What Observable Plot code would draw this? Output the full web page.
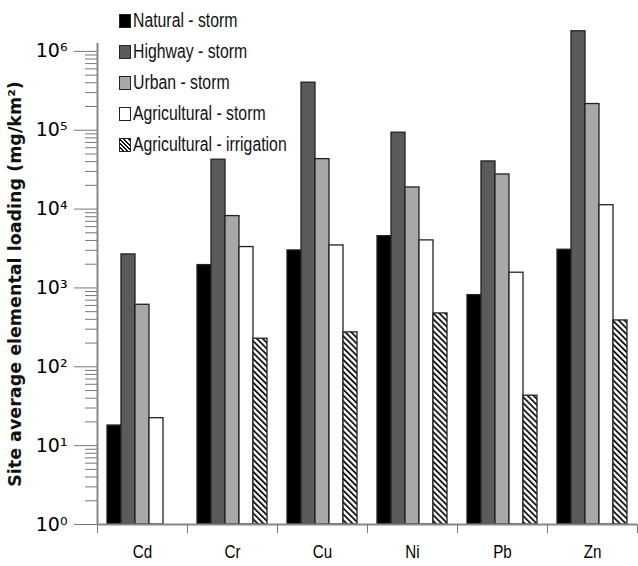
<!DOCTYPE html>
<html>
<head>
<meta charset="utf-8">
<script src="https://cdn.jsdelivr.net/npm/d3@7"></script>
<script src="https://cdn.jsdelivr.net/npm/@observablehq/plot@0.6"></script>
<style>
  body { margin: 0; background: #fff; }
  #wrap { position: relative; width: 638px; height: 566px; }
  #legend { position: absolute; left: 119px; top: 5px; font-family: "Liberation Sans", Arial, sans-serif; font-size: 20px; color: #111; }
  .row { display: flex; align-items: center; height: 31px; white-space: nowrap; }
  .sw { width: 12px; height: 14px; border: 1.3px solid #222; box-sizing: border-box; margin-right: 2px; flex: none; }
  .row span { display: inline-block; transform: scaleX(0.79); transform-origin: left center; }
</style>
</head>
<body>
<div id="wrap"><div id="legend"></div></div>
<script>
const elements = ["Cd", "Cr", "Cu", "Ni", "Pb", "Zn"];
const series = ["Natural - storm", "Highway - storm", "Urban - storm", "Agricultural - storm", "Agricultural - irrigation"];
const natural        = [18, 1950, 2990, 4540, 811, 3050];
const highway        = [2660, 42300, 401000, 93000, 40200, 1800000];
const urban          = [612, 8150, 43000, 18800, 27500, 215000];
const agriStorm      = [22.3, 3300, 3460, 4010, 1560, 11200];
const agriIrrigation = [null, 227, 273, 475, 43, 387];
const yTicks = [1, 10, 100, 1e3, 1e4, 1e5, 1e6];
const yLabel = "Site average elemental loading (mg/km²)";

const fills = ["#000000", "#5b5b5b", "#a8a8a8", "#ffffff", "url(#hatch)"];
const valuesBySeries = [natural, highway, urban, agriStorm, agriIrrigation];

const rows = [];
elements.forEach((el, i) => {
  series.forEach((s, k) => {
    const v = valuesBySeries[k][i];
    if (v != null) rows.push({el, i, s, k, v});
  });
});

const gap = 1 / 9, bw = (7 / 9) / series.length;
const minor = [];
for (let d = 0; d < 6; d++) for (let m = 2; m <= 9; m++) minor.push(m * 10 ** d);
const sup = {0: "⁰", 1: "¹", 2: "²", 3: "³", 4: "⁴", 5: "⁵", 6: "⁶"};
const boundaries = d3.range(elements.length + 1);
const centers = elements.map((_, i) => i + 0.5);

const plot = Plot.plot({
  width: 638,
  height: 566,
  marginLeft: 97,
  marginRight: 1,
  marginTop: 43,
  marginBottom: 42,
  style: {background: "#fff", overflow: "visible"},
  x: {type: "linear", domain: [0, elements.length], axis: null},
  y: {type: "log", domain: [1, 10 ** 6.1], axis: null},
  color: {type: "identity"},
  marks: [
    Plot.rect(rows, {
      x1: d => d.i + gap + d.k * bw,
      x2: d => d.i + gap + (d.k + 1) * bw,
      y1: 1,
      y2: "v",
      fill: d => fills[d.k],
      stroke: "#222",
      strokeWidth: 1.3
    }),
    Plot.axisY({ticks: minor, tickSize: 12, tickFormat: () => "", stroke: "#777", label: null}),
    Plot.axisY({
      ticks: yTicks, tickSize: 23, tickPadding: 7, stroke: "#777",
      tickFormat: d => "10" + sup[Math.round(Math.log10(d))],
      fontSize: 19, fontFamily: "DejaVu Sans, sans-serif",
      label: yLabel, labelAnchor: "center", labelOffset: 89, labelArrow: "none"
    }),
    Plot.ruleX([0], {y1: 1, y2: 10 ** 6.1, stroke: "#888", strokeWidth: 2}),
    Plot.ruleY([1], {x1: 0, x2: elements.length, stroke: "#888", strokeWidth: 2}),
    Plot.axisX({ticks: boundaries, tickSize: 9, tickFormat: () => "", stroke: "#777", label: null}),
    Plot.axisX({
      ticks: centers, tickSize: 0, tickPadding: 20,
      tickFormat: d => elements[Math.floor(d)],
      fontSize: 19, fontFamily: "Liberation Sans, Arial, sans-serif",
      label: null
    })
  ]
});

const svg = d3.select(plot);
svg.insert("defs", ":first-child").html(
  `<pattern id="hatch" patternUnits="userSpaceOnUse" width="4.2" height="4.2" patternTransform="rotate(-45)">
     <rect width="4.2" height="4.2" fill="#fff"/>
     <rect x="0" y="0" width="1.8" height="4.2" fill="#111"/>
   </pattern>`
);
svg.selectAll('g[aria-label="y-axis label"], g[aria-label="y-axis label"] text')
  .attr("font-weight", "bold").attr("font-size", 17.5)
  .attr("font-family", "DejaVu Sans, sans-serif").attr("fill", "#111");
svg.selectAll('g[aria-label="x-axis tick label"] text').each(function() {
  const t = this.getAttribute("transform") || "";
  this.setAttribute("transform", t + " scale(0.8,1)");
});

document.getElementById("wrap").prepend(plot);
plot.style.position = "absolute";
plot.style.left = "0";
plot.style.top = "0";

const legend = d3.select("#legend");
series.forEach((s, k) => {
  const row = legend.append("div").attr("class", "row");
  const sw = row.append("div").attr("class", "sw");
  if (k === 4) sw.style("background", "repeating-linear-gradient(45deg, #fff 0 1.6px, #111 1.6px 3px)");
  else sw.style("background", fills[k]);
  row.append("span").text(s);
});
</script>
</body>
</html>
